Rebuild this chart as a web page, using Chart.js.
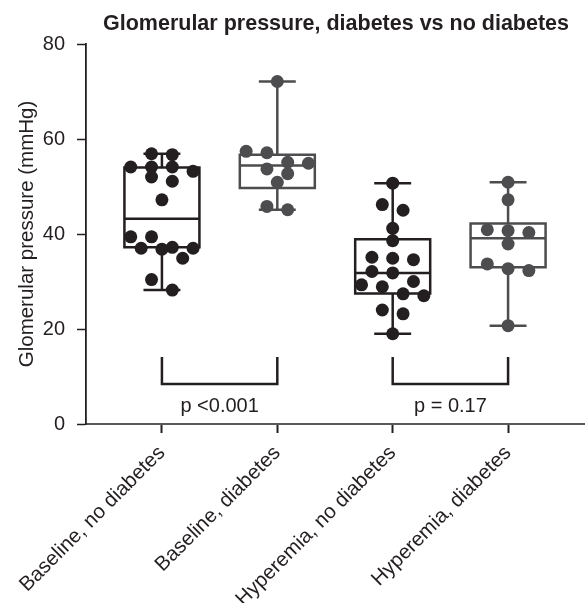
<!DOCTYPE html>
<html>
<head>
<meta charset="utf-8">
<script src="https://cdn.jsdelivr.net/npm/chart.js@4/dist/chart.umd.min.js"></script>
<style>
  html, body { margin: 0; padding: 0; background: #ffffff; }
  #wrap { width: 585px; height: 603px; }
</style>
</head>
<body>
<div id="wrap"><canvas id="chart" width="585" height="603"></canvas></div>
<script>
// Groups along the x axis
const categories = ['Baseline, no diabetes', 'Baseline, diabetes', 'Hyperemia, no diabetes', 'Hyperemia, diabetes'];

// Individual glomerular pressure measurements (mmHg)
const baselineNoDiabetes = [56.7, 56.9, 54.1, 53.2, 54.1, 54.1, 51.1, 52.0, 47.2, 39.4, 37.0, 37.2, 34.9, 36.8, 39.4, 37.0, 30.4, 28.2];
const baselineDiabetes = [72.1, 57.1, 57.4, 55.1, 54.9, 53.7, 52.7, 50.9, 45.1, 45.8];
const hyperemiaNoDiabetes = [50.7, 46.2, 45.0, 41.2, 38.6, 35.1, 34.6, 34.9, 31.8, 32.1, 28.9, 29.3, 30.0, 27.0, 27.4, 24.0, 23.2, 19.0];
const hyperemiaDiabetes = [50.9, 47.2, 40.3, 40.7, 40.9, 37.9, 33.7, 32.3, 32.7, 20.7];

// Box-and-whisker summaries (min to max whiskers)
const whiskerLow = [28.2, 45.1, 19.0, 20.7];
const quartile1 = [37.2, 49.7, 27.5, 33.0];
const medians = [43.2, 54.4, 31.8, 39.1];
const quartile3 = [54.0, 56.7, 38.9, 42.2];
const whiskerHigh = [56.9, 72.1, 50.7, 50.9];

// Y axis ticks
const yTicks = [0, 20, 40, 60, 80];

// Pairwise comparisons and their p values
const comparisons = [[0, 1], [2, 3]];
const pValueLabels = ['p <0.001', 'p = 0.17'];

const groupValues = [baselineNoDiabetes, baselineDiabetes, hyperemiaNoDiabetes, hyperemiaDiabetes];
const DARK = '#231f20';
const GREY = '#4d4d4f';
const groupColors = [DARK, GREY, DARK, GREY];
const FONT = "'Liberation Sans', Arial, Helvetica, sans-serif";

// Spread points of similar value side by side in rows, centred on the group
function swarm(values, center) {
  const binHeight = 2.5, maxPerRow = 4, spacing = 0.18;
  const sorted = values.slice().sort((a, b) => b - a);
  const pts = [];
  let i = 0;
  while (i < sorted.length) {
    const start = sorted[i];
    const row = [];
    while (i < sorted.length && row.length < maxPerRow && start - sorted[i] <= binHeight + 1e-6) {
      row.push(sorted[i]);
      i++;
    }
    row.forEach((v, k) => pts.push({ x: center + (k - (row.length - 1) / 2) * spacing, y: v }));
  }
  return pts;
}

// Boxes, whiskers and comparison brackets drawn on the chart scales
const boxPlugin = {
  id: 'boxes',
  beforeDatasetsDraw(chart) {
    const { ctx, scales: { x, y } } = chart;
    const halfBox = 0.325, halfCap = 0.16;
    ctx.save();
    ctx.lineWidth = 2.5;
    ctx.lineCap = 'butt';
    for (let g = 0; g < categories.length; g++) {
      ctx.strokeStyle = groupColors[g];
      const cx = x.getPixelForValue(g);
      const xl = x.getPixelForValue(g - halfBox);
      const xr = x.getPixelForValue(g + halfBox);
      const cl = x.getPixelForValue(g - halfCap);
      const cr = x.getPixelForValue(g + halfCap);
      const yMin = y.getPixelForValue(whiskerLow[g]);
      const yQ1 = y.getPixelForValue(quartile1[g]);
      const yMed = y.getPixelForValue(medians[g]);
      const yQ3 = y.getPixelForValue(quartile3[g]);
      const yMax = y.getPixelForValue(whiskerHigh[g]);
      ctx.beginPath();
      ctx.rect(xl, yQ3, xr - xl, yQ1 - yQ3);
      ctx.moveTo(xl, yMed); ctx.lineTo(xr, yMed);
      ctx.moveTo(cx, yQ3); ctx.lineTo(cx, yMax);
      ctx.moveTo(cx, yQ1); ctx.lineTo(cx, yMin);
      ctx.moveTo(cl, yMax); ctx.lineTo(cr, yMax);
      ctx.moveTo(cl, yMin); ctx.lineTo(cr, yMin);
      ctx.stroke();
    }
    // comparison brackets
    const bracketTop = 14.1, bracketBottom = 8.4, labelLevel = 3.6;
    ctx.strokeStyle = DARK;
    ctx.lineJoin = 'miter';
    ctx.fillStyle = DARK;
    ctx.font = '20px ' + FONT;
    ctx.textAlign = 'center';
    ctx.textBaseline = 'middle';
    comparisons.forEach((pair, k) => {
      const xa = x.getPixelForValue(pair[0]);
      const xb = x.getPixelForValue(pair[1]);
      const yt = y.getPixelForValue(bracketTop);
      const yb = y.getPixelForValue(bracketBottom);
      ctx.beginPath();
      ctx.moveTo(xa, yt); ctx.lineTo(xa, yb); ctx.lineTo(xb, yb); ctx.lineTo(xb, yt);
      ctx.stroke();
      ctx.fillText(pValueLabels[k], (xa + xb) / 2, y.getPixelForValue(labelLevel));
    });
    ctx.restore();
  },
  afterDraw(chart) {
    const { ctx, chartArea } = chart;
    ctx.save();
    ctx.fillStyle = DARK;
    ctx.font = 'bold 21.5px ' + FONT;
    ctx.textAlign = 'center';
    ctx.textBaseline = 'alphabetic';
    ctx.fillText('Glomerular pressure, diabetes vs no diabetes', (chartArea.left + chartArea.right) / 2 + 1, 30);
    ctx.restore();
  }
};

const datasets = groupValues.map((vals, g) => ({
  label: categories[g],
  data: swarm(vals, g),
  backgroundColor: groupColors[g],
  borderWidth: 0,
  pointRadius: 6.5,
  pointHoverRadius: 6.5
}));

new Chart(document.getElementById('chart'), {
  type: 'scatter',
  data: { datasets },
  plugins: [boxPlugin],
  options: {
    responsive: false,
    animation: false,
    events: [],
    layout: { autoPadding: false, padding: { top: 44, right: 1, left: 0, bottom: 0 } },
    plugins: { legend: { display: false }, tooltip: { enabled: false }, title: { display: false } },
    scales: {
      x: {
        type: 'linear',
        min: -0.658,
        max: 3.658,
        afterBuildTicks(scale) { scale.ticks = categories.map((c, i) => ({ value: i })); },
        afterFit(scale) {
          scale.height = 179;
          scale.paddingLeft = 0;
          scale.paddingRight = 0;
        },
        ticks: {
          autoSkip: false,
          minRotation: 45,
          maxRotation: 45,
          padding: 8,
          color: DARK,
          font: { family: FONT, size: 20.5 },
          callback: (v) => categories[v]
        },
        grid: { drawOnChartArea: false, drawTicks: true, tickLength: 9, tickColor: DARK, tickWidth: 2 },
        border: { display: true, color: '#58595b', width: 2 }
      },
      y: {
        min: 0,
        max: 80,
        afterBuildTicks(scale) { scale.ticks = yTicks.map(v => ({ value: v })); },
        afterFit(scale) { scale.width = 86; },
        ticks: {
          padding: 12,
          color: DARK,
          font: { family: FONT, size: 20 }
        },
        grid: { drawOnChartArea: false, drawTicks: true, tickLength: 9, tickColor: DARK, tickWidth: 1.5 },
        border: { display: true, color: DARK, width: 1.8 },
        title: {
          display: true,
          text: 'Glomerular pressure (mmHg)',
          color: DARK,
          font: { family: FONT, size: 20.5 },
          padding: { top: 15, bottom: 0 }
        }
      }
    }
  }
});
</script>
</body>
</html>
